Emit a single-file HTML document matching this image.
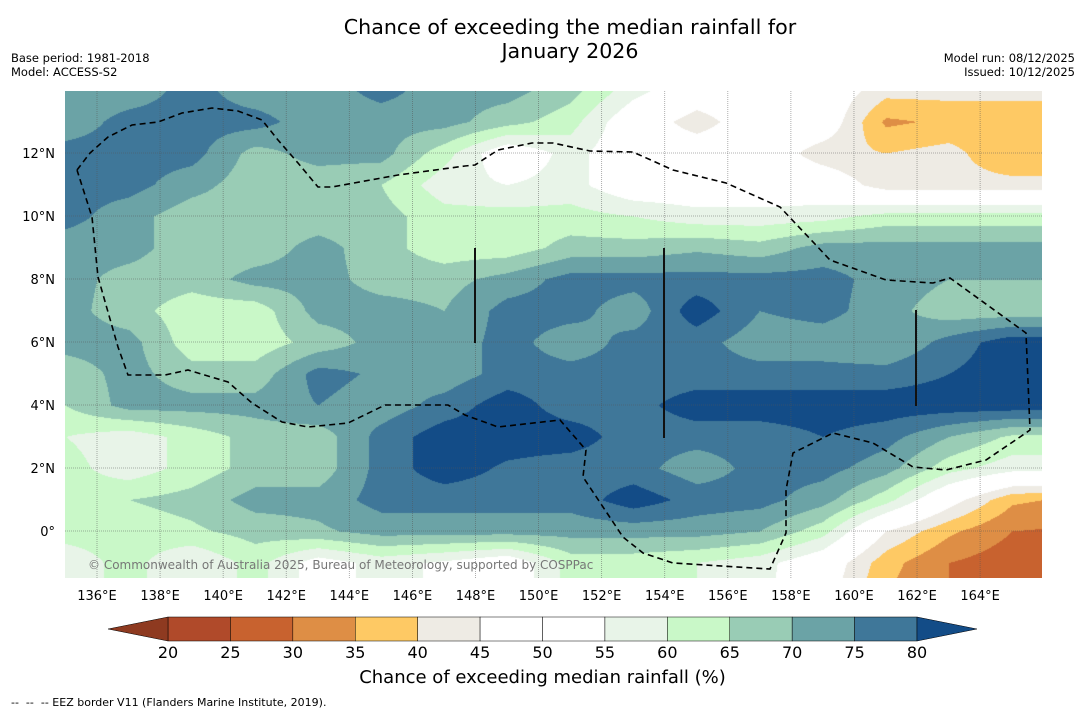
<!DOCTYPE html>
<html><head><meta charset="utf-8">
<style>
body{margin:0;background:#fff;width:1085px;height:713px;overflow:hidden;position:relative;font-family:"DejaVu Sans","Liberation Sans",sans-serif;}
.t{position:absolute;white-space:nowrap;color:#000;}
#map{position:absolute;left:65px;top:91px;}
svg{position:absolute;left:0;top:0;}
</style></head><body>
<div class="t" style="left:0;width:1140px;top:15px;text-align:center;font-size:20.6px;line-height:24px;">Chance of exceeding the median rainfall for<br>January 2026</div>
<div class="t" style="left:11px;top:51px;font-size:11.5px;line-height:14px;">Base period: 1981-2018<br>Model: ACCESS-S2</div>
<div class="t" style="right:10px;top:51px;font-size:11.5px;line-height:14px;text-align:right;">Model run: 08/12/2025<br>Issued: 10/12/2025</div>
<canvas id="map" width="977" height="487"></canvas>
<svg id="ov" width="1085" height="713"></svg>
<div class="t" style="left:88px;top:558px;font-size:12px;color:#777;">© Commonwealth of Australia 2025, Bureau of Meteorology, supported by COSPPac</div>
<div class="t" style="left:0;width:1085px;text-align:center;top:667px;font-size:18px;">Chance of exceeding median rainfall (%)</div>
<div class="t" style="left:11px;top:696px;font-size:11px;">--&nbsp; --&nbsp; -- EEZ border V11 (Flanders Marine Institute, 2019).</div>
<script>
// grid: lons 135..167 step 2, lats 14..-2 step 1
const lons=[135,137,139,141,143,145,147,149,151,153,155,157,159,161,163,165,167];
const lats=[14,13,12,11,10,9,8,7,6,5,4,3,2,1,0,-1,-2];
const r14=[72,72,77,72,72,77,72,72,67,57,50,50,50,42,42,42,42];
const r13=[72,77,77,77,72,72,72,67,62,50,42,50,50,34,36,36,36];
const r12=[77,77,77,68,72,72,62,50,57,50,50,50,42,40,42,35,35];
const r11=[77,77,72,67,67,65,57,55,57,50,50,50,50,42,42,42,42];
const r10=[77,72,67,67,67,67,62,62,62,60,57,57,58,62,62,62,62];
const r9=[72,72,67,67,72,67,62,62,67,67,69,67,72,72,72,72,72];
const r8=[72,68,67,72,72,68,68,72,77,77,77,77,77,73,70,70,70];
const r7=[72,67,62,62,72,72,70,77,77,72,83,75,77,72,67,67,67];
const r6=[72,72,62,62,67,72,72,77,72,77,77,72,72,70,77,83,83];
const r5=[67,72,67,67,77,74,72,77,77,77,77,77,77,77,80,83,83];
const r4=[65,72,72,72,75,72,77,83,77,78,83,83,83,83,83,83,83];
const r3=[60,57,62,67,67,77,83,83,83,77,77,77,80,77,70,64,64];
const r2=[62,57,62,67,67,77,83,79,77,77,72,77,77,72,62,57,57];
const r1=[62,65,67,72,72,77,77,77,77,83,78,77,72,62,48,36,34];
const r0=[62,62,64,67,69,72,72,72,72,72,72,70,62,45,36,30,29];
const rm1=[57,62,55,62,52,57,54,50,62,62,60,57,50,37,30,27,27];
const rm2=[57,62,55,62,52,57,54,50,62,62,60,57,48,35,30,27,27];
const grid=[r14,r13,r12,r11,r10,r9,r8,r7,r6,r5,r4,r3,r2,r1,r0,rm1,rm2];
const levels=[20,25,30,35,40,45,50,55,60,65,70,75,80];
const colors=['#8e3a20','#b04a2a','#c8622f','#de8e45','#fec964','#eeebe4','#ffffff','#ffffff','#e8f4e8','#c9f8c8','#99ccb5','#6ba3a6','#3f7799','#134c87'];
const lonTicks=[136,138,140,142,144,146,148,150,152,154,156,158,160,162,164];
const latTicks=[0,2,4,6,8,10,12];
const X=lon=>97+(lon-136)*31.54, Y=lat=>531-lat*31.5;
function hex(c){return [parseInt(c.slice(1,3),16),parseInt(c.slice(3,5),16),parseInt(c.slice(5,7),16)];}
function bin(v){let i=0;while(i<levels.length&&v>=levels[i])i++;return i;}
const cv=document.getElementById('map'),ctx=cv.getContext('2d');
const img=ctx.createImageData(977,487);const rgb=colors.map(hex);
for(let py=0;py<487;py++){const lat=(531-(py+91))/31.5;let fy=(14-lat);let iy=Math.min(Math.floor(fy),lats.length-2);let ty=fy-iy;
 for(let px=0;px<977;px++){const lon=136+((px+65)-97)/31.54;let fx=(lon-135)/2;let ix=Math.max(0,Math.min(Math.floor(fx),lons.length-2));let tx=fx-ix;
  const v=(grid[iy][ix]*(1-tx)+grid[iy][ix+1]*tx)*(1-ty)+(grid[iy+1][ix]*(1-tx)+grid[iy+1][ix+1]*tx)*ty;
  const c=rgb[bin(v)];const k=(py*977+px)*4;img.data[k]=c[0];img.data[k+1]=c[1];img.data[k+2]=c[2];img.data[k+3]=255;}}
ctx.putImageData(img,0,0);
const NS='http://www.w3.org/2000/svg',ov=document.getElementById('ov');
function mk(t,a,txt){const e=document.createElementNS(NS,t);for(const k in a)e.setAttribute(k,a[k]);if(txt!==undefined)e.textContent=txt;ov.appendChild(e);return e;}
lonTicks.forEach(l=>{const x=X(l);
 const g=mk('line',{x1:x,x2:x,y1:91,y2:578,stroke:'#555','stroke-width':0.8,'stroke-dasharray':'1,1',opacity:0.6});
 
 
 const t=mk('text',{x:x,y:600,'text-anchor':'middle','font-size':13,'font-family':'DejaVu Sans'},l+'°E');
 
 });
latTicks.forEach(l=>{const y=Y(l);
 const g=mk('line',{x1:65,x2:1042,y1:y,y2:y,stroke:'#555','stroke-width':0.8,'stroke-dasharray':'1,1',opacity:0.6});
 
 
 const t=mk('text',{x:55,y:y+5,'text-anchor':'end','font-size':13,'font-family':'DejaVu Sans'},l===0?'0°':l+'°N');
 
 });
const eez=[[77,170],[90,153],[108,137],[132,125],[158,122],[182,113],[212,108],[238,111],[262,120],[278,140],[298,163],[318,187],[332,187],[398,175],[465,166],[475,165],[498,150],[532,143],[553,143],[590,151],[633,152],[673,170],[726,183],[780,207],[830,260],[886,280],[933,283],[950,278],[1026,333],[1030,430],[1020,437],[986,460],[946,470],[913,467],[873,443],[833,433],[793,453],[786,490],[786,533],[770,569],[673,563],[643,553],[623,537],[583,477],[586,450],[560,420],[498,427],[465,415],[448,405],[385,405],[348,423],[308,427],[282,422],[252,403],[228,382],[188,370],[165,375],[128,375],[118,347],[98,277],[92,217],[77,170]];
const p=mk('polyline',{points:eez.map(a=>a.join(',')).join(' '),fill:'none',stroke:'#000','stroke-width':1.6,'stroke-dasharray':'6,4'});


[[475,248,343],[664,248,438],[916,310,406]].forEach(b=>{const l=mk('line',{x1:b[0],x2:b[0],y1:b[1],y2:b[2],stroke:'#111','stroke-width':2});
 
 });
// colorbar
const cbx=v=>168+(v-20)*(917-168)/60;
for(let i=0;i<12;i++){const r=mk('rect',{x:cbx(levels[i]),y:617,width:cbx(levels[i+1])-cbx(levels[i]),height:24,fill:colors[i+1],stroke:'#000','stroke-width':0.5});
 
 }
const lt=mk('polygon',{points:'168,617 108,629 168,641',fill:colors[0],stroke:'#000','stroke-width':0.5});


const rt=mk('polygon',{points:'917,617 977,629 917,641',fill:colors[13],stroke:'#000','stroke-width':0.5});


levels.forEach(v=>{const t=mk('text',{x:cbx(v),y:658,'text-anchor':'middle','font-size':16,'font-family':'DejaVu Sans'},v);
 
 });
</script>
</body></html>
